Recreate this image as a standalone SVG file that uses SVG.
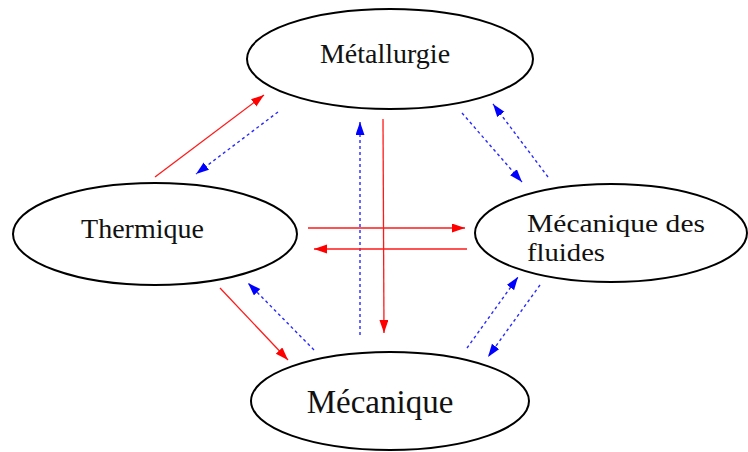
<svg xmlns="http://www.w3.org/2000/svg" width="748" height="452" viewBox="0 0 748 452">
<defs>
<style>
.node ellipse{fill:#fff;stroke:#000;stroke-width:2}
.node text{font-family:"Liberation Serif","Times New Roman",serif;font-size:28px;fill:#111}
.r{stroke:#ff1a1a;stroke-width:1.3;fill:none;marker-end:url(#ar)}
.b{stroke:#2a2aff;stroke-width:1.4;fill:none;stroke-dasharray:3 3;marker-end:url(#ab)}
</style>
<marker id="ar" markerUnits="userSpaceOnUse" markerWidth="14" markerHeight="10" refX="13" refY="4.5" orient="auto"><path d="M0,0 L13,4.5 L0,9 z" fill="#ff0000"/></marker>
<marker id="ab" markerUnits="userSpaceOnUse" markerWidth="14" markerHeight="10" refX="13" refY="4.5" orient="auto"><path d="M0,0 L13,4.5 L0,9 z" fill="#0000ff"/></marker>
</defs>
<rect width="748" height="452" fill="#fff"/>
<g id="connectors">
<line class="r" x1="155" y1="177" x2="264" y2="95"/>
<line class="b" x1="278" y1="112" x2="196" y2="174"/>
<line class="b" x1="462" y1="113" x2="522" y2="182"/>
<line class="b" x1="548" y1="177" x2="493" y2="104"/>
<line class="b" x1="360" y1="335" x2="360" y2="122"/>
<line class="r" x1="383" y1="119" x2="384" y2="333"/>
<line class="r" x1="308" y1="228" x2="465" y2="228"/>
<line class="r" x1="467" y1="249" x2="314" y2="249"/>
<line class="r" x1="220" y1="288" x2="288" y2="360"/>
<line class="b" x1="314" y1="350" x2="248" y2="283"/>
<line class="b" x1="467" y1="348" x2="518" y2="277"/>
<line class="b" x1="540" y1="285" x2="488" y2="357"/>
</g>
<g id="metallurgie" class="node">
<ellipse cx="390" cy="59" rx="143" ry="50"/>
<text x="385" y="63" text-anchor="middle">Métallurgie</text>
</g>
<g id="thermique" class="node">
<ellipse cx="155" cy="234" rx="142" ry="51"/>
<text x="142.5" y="238" text-anchor="middle">Thermique</text>
</g>
<g id="fluides" class="node">
<ellipse cx="611" cy="233" rx="136" ry="49"/>
<text x="527" y="232" style="font-size:26px" textLength="178" lengthAdjust="spacingAndGlyphs">Mécanique des</text>
<text x="527" y="261" style="font-size:26px" textLength="78" lengthAdjust="spacingAndGlyphs">fluides</text>
</g>
<g id="mecanique" class="node">
<ellipse cx="390" cy="401" rx="139" ry="49"/>
<text x="380" y="413" text-anchor="middle" style="font-size:33px">Mécanique</text>
</g>
</svg>
